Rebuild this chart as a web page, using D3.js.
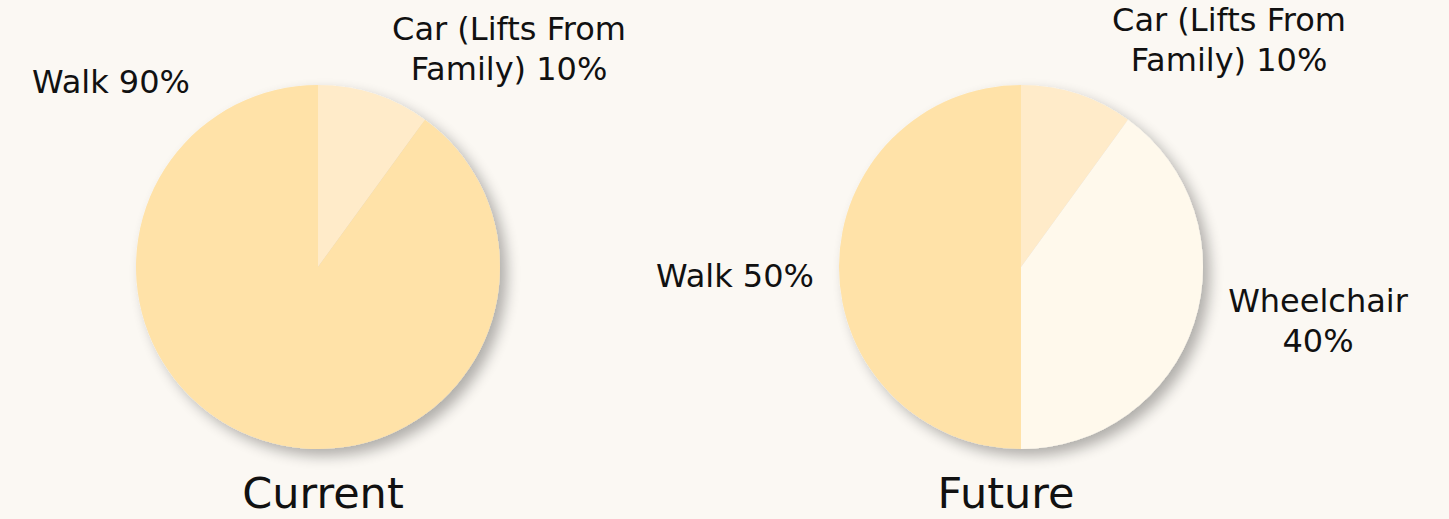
<!DOCTYPE html>
<html>
<head>
<meta charset="utf-8">
<script src="https://cdn.jsdelivr.net/npm/d3@7"></script>
<style>
  html, body { margin: 0; padding: 0; background: #fbf8f3; }
  svg { display: block; font-family: "DejaVu Sans", Verdana, sans-serif; }
</style>
</head>
<body>
<svg id="chart" width="1449" height="519"></svg>
<script>
// Travel modes, in drawing order (clockwise from 12 o'clock)
const modes = ["Car (Lifts From Family)", "Wheelchair", "Walk"];
const modeColors = ["#ffebc9", "#fff9ec", "#ffe2a8"];

const currentValues = [10, 0, 90];
const futureValues = [10, 40, 50];

const panelTitles = ["Current", "Future"];

// Label text lines per mode for each panel
const currentLabels = [["Car (Lifts From", "Family) 10%"], null, ["Walk 90%"]];
const futureLabels = [["Car (Lifts From", "Family) 10%"], ["Wheelchair", "40%"], ["Walk 50%"]];

const W = 1449, H = 519;
const svg = d3.select("#chart");

// Soft drop shadow below and to the right of each pie
const defs = svg.append("defs");
const shadow = defs.append("filter").attr("id", "pieShadow")
  .attr("x", "-20%").attr("y", "-20%").attr("width", "150%").attr("height", "150%");
shadow.append("feGaussianBlur").attr("in", "SourceAlpha").attr("stdDeviation", 7).attr("result", "blur");
shadow.append("feOffset").attr("in", "blur").attr("dx", 7).attr("dy", 7).attr("result", "off");
shadow.append("feComponentTransfer").attr("in", "off").attr("result", "soft")
  .append("feFuncA").attr("type", "linear").attr("slope", 0.3);
const merge = shadow.append("feMerge");
merge.append("feMergeNode").attr("in", "soft");
merge.append("feMergeNode").attr("in", "SourceGraphic");

const color = d3.scaleOrdinal().domain(modes).range(modeColors);
const pie = d3.pie().sort(null).value(d => d.value);
const radius = 182;
const arc = d3.arc().innerRadius(0).outerRadius(radius);

// Label anchor offsets relative to each pie's centre
const panels = [
  { cx: 318, cy: 267, values: currentValues, labels: currentLabels, title: panelTitles[0], titleDx: 5,
    labelPos: [[191, -227], null, [-207, -174]] },
  { cx: 1021, cy: 267, values: futureValues, labels: futureLabels, title: panelTitles[1], titleDx: -15,
    labelPos: [[208, -236], [297, 45], [-286, 20]] }
];

const fontSize = 32, lineH = 40;

panels.forEach(p => {
  const data = modes.map((m, i) => ({ mode: m, value: p.values[i], i }));
  const g = svg.append("g").attr("transform", `translate(${p.cx},${p.cy})`);
  const slices = g.append("g").attr("filter", "url(#pieShadow)");
  slices.selectAll("path")
    .data(pie(data).filter(d => d.data.value > 0))
    .join("path")
    .attr("d", arc)
    .attr("fill", d => color(d.data.mode));

  data.forEach((d, i) => {
    if (!p.labels[i] || d.value <= 0) return;
    const [lx, ly] = p.labelPos[i];
    const t = g.append("text")
      .attr("text-anchor", "middle")
      .attr("font-size", fontSize)
      .attr("fill", "#111");
    p.labels[i].forEach((line, k) => {
      t.append("tspan").attr("x", lx).attr("y", ly + k * lineH).text(line);
    });
  });

  svg.append("text")
    .attr("x", p.cx + p.titleDx).attr("y", 508)
    .attr("text-anchor", "middle")
    .attr("font-size", 43)
    .attr("fill", "#111")
    .text(p.title);
});
</script>
</body>
</html>
